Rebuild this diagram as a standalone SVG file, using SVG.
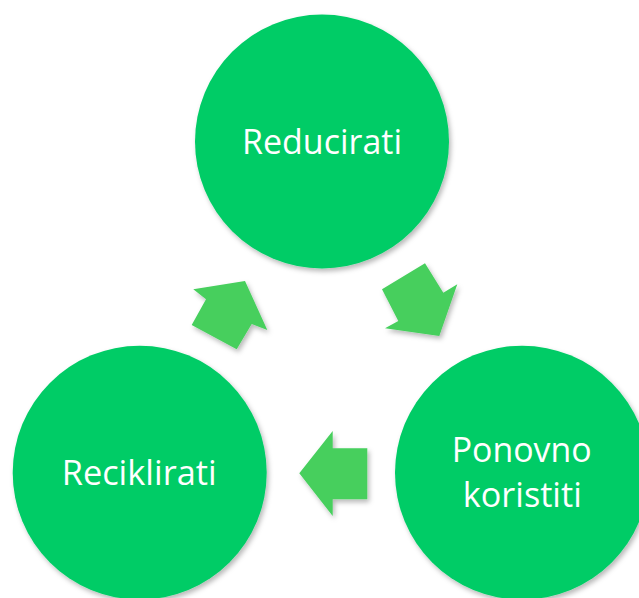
<svg xmlns="http://www.w3.org/2000/svg" width="639" height="598" viewBox="0 0 639 598">
<defs>
<filter id="sh" x="-20%" y="-20%" width="140%" height="140%">
<feDropShadow dx="2" dy="3" stdDeviation="2.5" flood-color="#000" flood-opacity="0.28"/>
</filter>
</defs>
<style>
.node{fill:#00CC66;filter:url(#sh)}
.arr{fill:#46CF5D;filter:url(#sh)}
.lbl{font-family:"Open Sans","Liberation Sans",sans-serif;font-size:34px;fill:#fff;text-anchor:middle}
</style>
<rect width="639" height="598" fill="#fff"/>
<g id="connectors">
<polygon class="arr" points="382,289.3 425,263.3 443.3,292.7 457.3,284.3 439.3,336 385,328.3 398.3,321"/>
<polygon class="arr" points="367.3,448.3 332.7,448.3 332.7,431 299.3,473.3 332.7,516 332.7,499.3 367.3,499.3"/>
<polygon class="arr" points="236.7,349.3 191.7,325 206,299.3 193.3,289.3 245,281 267.3,330 251.7,324"/>
</g>
<g id="reducirati">
<circle class="node" cx="322" cy="141.5" r="127"/>
<text class="lbl" x="322" y="154" textLength="160" lengthAdjust="spacingAndGlyphs">Reducirati</text>
</g>
<g id="ponovno">
<circle class="node" cx="522" cy="472.7" r="127"/>
<text class="lbl" x="521.7" y="461.7" textLength="140" lengthAdjust="spacingAndGlyphs">Ponovno</text>
<text class="lbl" x="522.3" y="506.7" textLength="119" lengthAdjust="spacingAndGlyphs">koristiti</text>
</g>
<g id="reciklirati">
<circle class="node" cx="139.7" cy="472.7" r="127"/>
<text class="lbl" x="139.2" y="485" textLength="155" lengthAdjust="spacingAndGlyphs">Reciklirati</text>
</g>
</svg>
